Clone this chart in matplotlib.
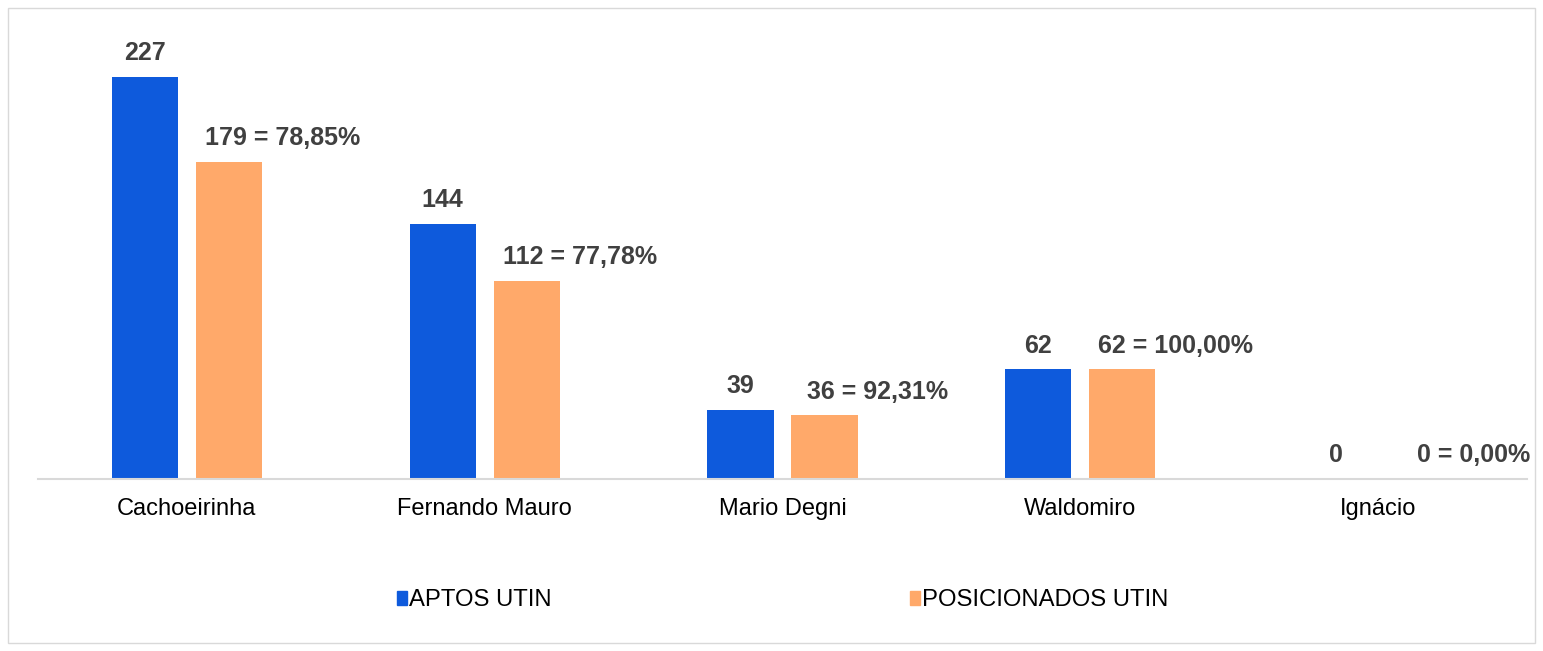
import matplotlib.pyplot as plt
from matplotlib.patches import Rectangle, Patch

plt.rcParams['font.family'] = ['Liberation Sans', 'DejaVu Sans']

units = ['Cachoeirinha', 'Fernando Mauro', 'Mario Degni', 'Waldomiro', 'Ignácio']
aptos = [227, 144, 39, 62, 0]
posicionados = [179, 112, 36, 62, 0]
percent_labels = ['78,85%', '77,78%', '92,31%', '100,00%', '0,00%']

blue = '#0E5ADC'
orange = '#FFA96A'
label_color = '#404040'

fig = plt.figure(figsize=(15.43, 6.51), dpi=100)
ax = fig.add_axes([0.0246, 0.2642, 0.965, 0.69])

x = list(range(len(units)))
w = 0.222
off = 0.141
ax.bar([i - off for i in x], aptos, width=w, color=blue)
ax.bar([i + off for i in x], posicionados, width=w, color=orange)

# value labels above bars
for i in x:
    ax.annotate(str(aptos[i]), (i - off, aptos[i]), xytext=(0, 17),
                textcoords='offset points', ha='center', va='center',
                fontsize=18, fontweight='bold', color=label_color)
    ax.annotate(f"{posicionados[i]} = {percent_labels[i]}", (i + off + 0.18, posicionados[i]),
                xytext=(0, 17), textcoords='offset points', ha='center', va='center',
                fontsize=18, fontweight='bold', color=label_color)

ax.set_xlim(-0.5, 4.5)
ax.set_ylim(0, 253.5)
ax.set_xticks(x)
ax.set_xticklabels(units, fontsize=17)
ax.tick_params(axis='x', length=0, pad=14)
ax.set_yticks([])
for s in ['top', 'right', 'left']:
    ax.spines[s].set_visible(False)
ax.spines['bottom'].set_color('#d9d9d9')
ax.spines['bottom'].set_linewidth(1.5)

handles = [Patch(color=blue, label='APTOS UTIN'), Patch(color=orange, label='POSICIONADOS UTIN')]
fig.legend(handles=handles, loc='center', bbox_to_anchor=(0.5072, 0.078), ncol=2,
           frameon=False, fontsize=17.2, handlelength=0.42, handleheight=0.5,
           handletextpad=0.08, columnspacing=15.0)

# outer border
fig.patches.append(Rectangle((8 / 1543, 8 / 651), 1527 / 1543, 635 / 651,
                             transform=fig.transFigure, fill=False,
                             edgecolor='#d9d9d9', linewidth=1))

plt.savefig('out.png', dpi=100)
plt.close()
